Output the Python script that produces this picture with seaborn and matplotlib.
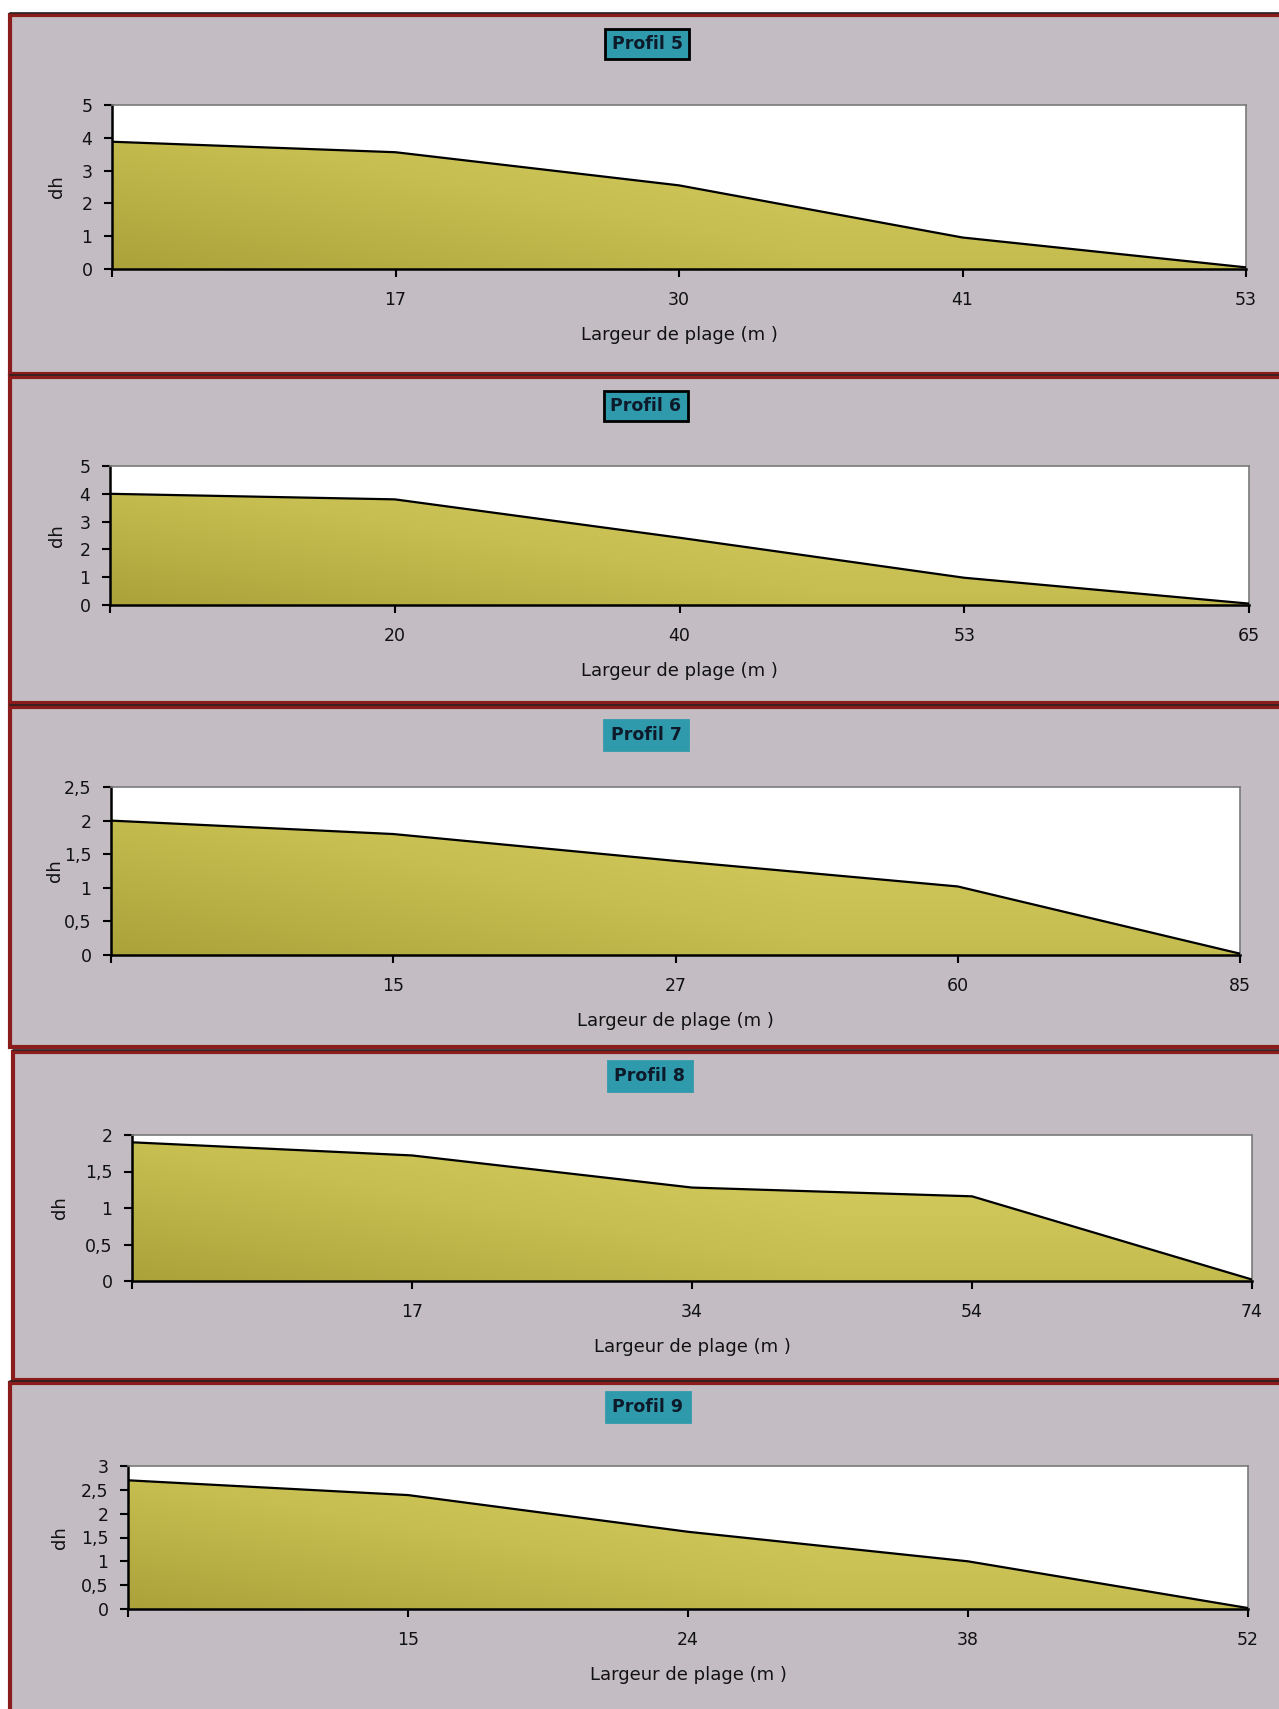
import numpy as np
import matplotlib
matplotlib.use("Agg")
import matplotlib.pyplot as plt
import matplotlib.patches as mpatches
import seaborn as sns

sns.set_theme(style="white")
plt.rcParams['font.family'] = ['DejaVu Sans']

# ---- data ----
titles = ["Profil 5", "Profil 6", "Profil 7", "Profil 8", "Profil 9"]
xlabels_5 = ["", "17", "30", "41", "53"]
xlabels_6 = ["", "20", "40", "53", "65"]
xlabels_7 = ["", "15", "27", "60", "85"]
xlabels_8 = ["", "17", "34", "54", "74"]
xlabels_9 = ["", "15", "24", "38", "52"]
dh_5 = [3.88, 3.56, 2.55, 0.96, 0.05]
dh_6 = [4.0, 3.8, 2.42, 0.98, 0.05]
dh_7 = [2.0, 1.8, 1.4, 1.02, 0.02]
dh_8 = [1.9, 1.72, 1.28, 1.16, 0.02]
dh_9 = [2.7, 2.39, 1.62, 1.0, 0.02]
ymax = [5, 5, 2.5, 2, 3]
ystep = [1, 1, 0.5, 0.5, 0.5]

xlabels_all = [xlabels_5, xlabels_6, xlabels_7, xlabels_8, xlabels_9]
dh_all = [dh_5, dh_6, dh_7, dh_8, dh_9]

W, H = 1279, 1709
fig = plt.figure(figsize=(W / 100, H / 100), dpi=100)
fig.patch.set_facecolor("white")

bg = "#c3bdc3"
border = "#8a1c1c"

# panel rectangles (pixel coords: x0, y0(top), x1, y1(bottom))
panels = [(10, 15, 1285, 374), (10, 377, 1285, 703), (10, 707, 1285, 1047),
          (13, 1052, 1285, 1380), (10, 1383, 1285, 1712)]
axes_px = [(112, 105, 1246, 269), (110, 466, 1249, 605), (111, 787, 1240, 955),
           (132, 1135, 1252, 1281), (128, 1466, 1248, 1609)]
title_px = [(647, 44), (646, 406), (646, 735), (650, 1076), (648, 1407)]
ylab_x = [57, 57, 55, 60, 60]


def fx(px):
    return px / W


def fy(py):
    return 1 - py / H


for (x0, y0, x1, y1) in panels:
    fig.patches.append(mpatches.Rectangle((fx(x0), fy(y1)), fx(x1 - x0), (y1 - y0) / H,
                                          transform=fig.transFigure, fc=bg, ec=border,
                                          lw=3, zorder=0))
    fig.lines.append(plt.Line2D([fx(x0), fx(x1)], [fy(y0 - 2.5), fy(y0 - 2.5)],
                                transform=fig.transFigure, color="#2a2222", lw=1.2, zorder=1))

# gradient image
gy, gx = np.mgrid[0:1:200j, 0:1:400j]
grad = 0.55 * gy + 0.45 * np.clip(gx * 1.6, 0, 1)
cmap = matplotlib.colors.LinearSegmentedColormap.from_list("sand", ["#aba33a", "#c6be50", "#d8d062"])

for i in range(5):
    x0, y0, x1, y1 = axes_px[i]
    ax = fig.add_axes([fx(x0), fy(y1), fx(x1 - x0), (y1 - y0) / H])
    ax.set_zorder(10)
    ax.set_facecolor("white")
    xs = np.arange(len(dh_all[i]))
    ys = np.array(dh_all[i])
    poly = ax.fill_between(xs, ys, 0, color="none", lw=0)
    im = ax.imshow(grad, extent=(0, xs[-1], 0, ymax[i]), origin="lower", cmap=cmap,
                   aspect="auto", zorder=1)
    im.set_clip_path(poly.get_paths()[0], transform=ax.transData)
    sns.lineplot(x=xs, y=ys, ax=ax, color="black", lw=1.6, zorder=3)
    ax.set_xlim(0, xs[-1])
    ax.set_ylim(0, ymax[i])
    ax.set_xticks(xs)
    ax.set_xticklabels(xlabels_all[i])
    yt = np.arange(0, ymax[i] + 1e-9, ystep[i])
    ax.set_yticks(yt)
    ax.set_yticklabels([("%g" % v).replace(".", ",") for v in yt])
    for s in ["top", "right"]:
        ax.spines[s].set_color("#7a7a7a")
        ax.spines[s].set_linewidth(1.2)
    for s in ["left", "bottom"]:
        ax.spines[s].set_color("black")
        ax.spines[s].set_linewidth(1.8)
    ax.tick_params(axis="both", which="major", direction="out", length=6, width=1.5,
                   color="black", labelsize=12.5, labelcolor="#111111", pad=8,
                   bottom=True, left=True)
    ax.tick_params(axis="x", pad=10)
    ax.set_xlabel("")
    ax.set_ylabel("")
    ax.grid(False)
    fig.text(fx((x0 + x1) / 2), fy(y1 + 66), "Largeur de plage (m )", ha="center", va="center",
             fontsize=13, color="#111111")
    fig.text(fx(ylab_x[i]), fy((y0 + y1) / 2), "dh", ha="center", va="center",
             rotation=90, fontsize=13, color="#111111")
    tx, ty = title_px[i]
    ec = "black" if i < 2 else "#2f9aac"
    fig.text(fx(tx), fy(ty), titles[i], ha="center", va="center", fontsize=12.5,
             fontweight="bold", color="#0c1a2a",
             bbox=dict(boxstyle="square,pad=0.35", fc="#2f9aac", ec=ec, lw=2))

fig.savefig("out.png", dpi=100, facecolor=fig.get_facecolor())
